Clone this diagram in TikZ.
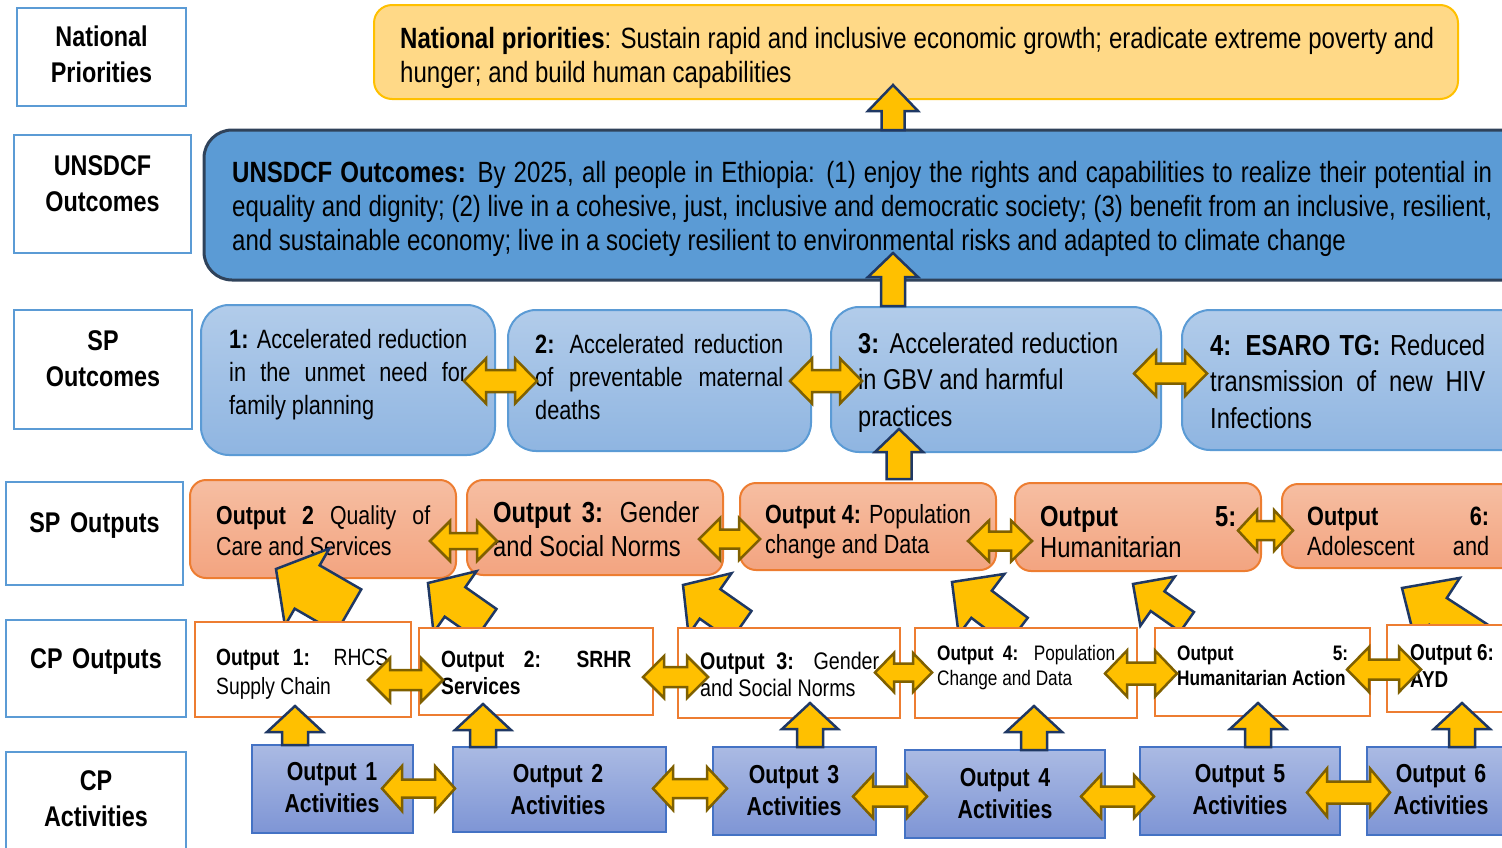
\documentclass[tikz,border=0pt]{standalone}
\usepackage{fontspec}
\setmainfont{Liberation Sans}[FakeStretch=0.82]
\usetikzlibrary{fit}

\definecolor{lblue}{RGB}{91,155,213}
\definecolor{natfill}{RGB}{255,217,135}
\definecolor{natline}{RGB}{255,192,0}
\definecolor{undline}{RGB}{47,66,90}
\definecolor{outtop}{RGB}{178,204,234}
\definecolor{outbot}{RGB}{143,181,225}
\definecolor{sptop}{RGB}{246,190,162}
\definecolor{spbot}{RGB}{243,164,128}
\definecolor{orng}{RGB}{237,125,49}
\definecolor{acttop}{RGB}{170,186,227}
\definecolor{actbot}{RGB}{126,149,213}
\definecolor{actline}{RGB}{68,114,196}
\definecolor{arrfill}{RGB}{255,192,0}
\definecolor{navy}{RGB}{31,56,100}
\definecolor{olive}{RGB}{127,96,0}

\newcommand{\fsz}[2]{\fontsize{#1}{#2}\selectfont}
% block arrow pointing up: x, tip y, foot y, head half, head length, shaft half
\newcommand{\upblk}[6]{%
  \draw[uparr] (#1,#2) -- (#1+#4,#2+#5) -- (#1+#6,#2+#5) -- (#1+#6,#3)
    -- (#1-#6,#3) -- (#1-#6,#2+#5) -- (#1-#4,#2+#5) -- cycle;}
% two-headed block arrow: left x, right x, mid y, head half, shaft half, head length
\newcommand{\dblblk}[6]{%
  \draw[dblarr] (#1,#3) -- (#1+#6,#3-#4) -- (#1+#6,#3-#5) -- (#2-#6,#3-#5)
    -- (#2-#6,#3-#4) -- (#2,#3) -- (#2-#6,#3+#4) -- (#2-#6,#3+#5)
    -- (#1+#6,#3+#5) -- (#1+#6,#3+#4) -- cycle;}
% slanted block arrow: tip x, tip y, angle, head half, head length, shaft half, shaft length
\newcommand{\slantblk}[7]{%
  \draw[uparr, shift={(#1,#2)}, rotate=#3] (0,0) -- (-#5,#4) -- (-#5,#6)
    -- (-#5-#7,#6) -- (-#5-#7,-#6) -- (-#5,-#6) -- (-#5,-#4) -- cycle;}

\begin{document}
\begin{tikzpicture}[x=1pt, y=-1pt,
  lbl/.style={draw=lblue, line width=2.5pt, fill=white, inner sep=0pt},
  lbltxt/.style={inner sep=0pt, anchor=base, text width=180, align=center,
    font=\bfseries\fsz{28.5}{36}},
  nat/.style={draw=natline, fill=natfill, line width=2pt, rounded corners=18pt, inner sep=0pt},
  und/.style={draw=undline, fill=lblue, line width=3pt, rounded corners=28pt, inner sep=0pt},
  outc/.style={draw=lblue, top color=outtop, bottom color=outbot, line width=2pt,
    rounded corners=28pt, inner sep=0pt},
  spout/.style={draw=orng, top color=sptop, bottom color=spbot, line width=2pt,
    rounded corners=16pt, inner sep=0pt},
  cpout/.style={draw=orng, fill=white, line width=2.5pt, inner sep=0pt},
  act/.style={draw=actline, top color=acttop, bottom color=actbot, line width=2pt, inner sep=0pt},
  txt/.style={inner sep=0pt, anchor=base west, align=justify},
  acttxt/.style={inner sep=0pt, anchor=base, text width=200, align=center,
    font=\bfseries\fsz{26}{32}},
  uparr/.style={fill=arrfill, draw=navy, line width=2.5pt},
  dblarr/.style={fill=arrfill, draw=olive, line width=2.5pt}
  ]
  \useasboundingbox (0,0) rectangle (1502,847);
  \clip (0,0) rectangle (1502,847);

  % level labels on the left
  \node[lbl, fit={(17,8) (186,106)}] (np) {};
  \node[lbl, fit={(14,135) (191,253)}] (uo) {};
  \node[lbl, fit={(14,310) (192,429)}] (spc) {};
  \node[lbl, fit={(6,482) (183,585)}] (spp) {};
  \node[lbl, fit={(6,620) (186,717)}] (cpo) {};
  \node[lbl, fit={(6,752) (186,880)}] (cpa) {};
  \node[lbltxt] (npt) at (101.5,46) {National\\Priorities};
  \node[lbltxt] (uot) at (102.5,175) {UNSDCF\\Outcomes};
  \node[lbltxt] (spct) at (103,350) {SP\\Outcomes};
  \node[lbltxt] (sppt) at (94.5,532) {SP Outputs};
  \node[lbltxt] (cpot) at (96,668) {CP Outputs};
  \node[lbltxt] (cpat) at (96,790) {CP\\Activities};

  % national priorities
  \node[nat, fit={(374,5) (1458,99)}] (natp) {};
  \node[txt, text width=1034, font=\fsz{29.3}{34}] (natpt) at (400,48)
    {\textbf{National priorities}: Sustain rapid and inclusive economic growth; eradicate extreme poverty and\linebreak hunger; and build human capabilities};

  % UNSDCF outcomes
  \node[und, fit={(204,130) (1530,280)}] (unsd) {};
  \node[txt, text width=1260, font=\fsz{29.3}{34}] (unsdt) at (232,182)
    {\textbf{UNSDCF Outcomes:} By 2025, all people in Ethiopia: (1) enjoy the rights and capabilities to realize their potential in\linebreak equality and dignity; (2) live in a cohesive, just, inclusive and democratic society; (3) benefit from an inclusive, resilient,\linebreak and sustainable economy; live in a society resilient to environmental risks and adapted to climate change};
  \upblk{893}{85}{130}{25}{26}{11.5}

  % SP outcomes
  \node[outc, fit={(201,305) (495,455)}] (oc1) {};
  \node[outc, fit={(508,310) (811,451)}] (oc2) {};
  \node[outc, fit={(831,307) (1161,452)}] (oc3) {};
  \node[outc, fit={(1182,310) (1540,450)}] (oc4) {};
  \node[txt, text width=238, font=\fsz{26.5}{33}] (oc1t) at (229,348)
    {\textbf{1:} Accelerated reduction\linebreak in the unmet need for\linebreak family planning};
  \node[txt, text width=248, font=\fsz{26.5}{33}] (oc2t) at (535,353)
    {\textbf{2:} Accelerated reduction\linebreak of preventable maternal\linebreak deaths};
  \node[txt, text width=260, font=\fsz{28.7}{36.5}] (oc3t) at (858,353)
    {\textbf{3:} Accelerated reduction\linebreak in GBV and harmful\\ practices};
  \node[txt, text width=275, font=\fsz{29}{36.5}] (oc4t) at (1210,355)
    {\textbf{4: ESARO TG:} Reduced\linebreak transmission of new HIV\linebreak Infections};
  \upblk{893}{253}{306}{25}{24}{12}
  \foreach \xa/\xb/\ym/\hh/\sh in {464/537/381/22.5/11, 790/862/381/22.5/11, 1134/1207/373.5/22.5/10}
    {\dblblk{\xa}{\xb}{\ym}{\hh}{\sh}{22}}

  % SP outputs
  \node[spout, fit={(190,480) (456,578)}] (so2) {};
  \node[spout, fit={(467,480) (723,575)}] (so3) {};
  \node[spout, fit={(740,483) (996,570)}] (so4) {};
  \node[spout, fit={(1015,483) (1261,571)}] (so5) {};
  \node[spout, fit={(1282,484) (1540,568)}] (so6) {};
  \node[txt, text width=214, font=\fsz{26}{31}] (so2t) at (216,524)
    {\textbf{Output 2} Quality of\linebreak Care and Services};
  \node[txt, text width=206, font=\fsz{29}{34}] (so3t) at (493,522)
    {\textbf{Output 3:} Gender\linebreak and Social Norms};
  \node[txt, text width=206, font=\fsz{26.3}{30}] (so4t) at (765,523)
    {\textbf{Output 4:} Population\\ change and Data};
  \node[txt, text width=196, font=\fsz{29}{31}] (so5t) at (1040,526)
    {\textbf{Output 5:}\linebreak Humanitarian};
  \node[txt, text width=182, font=\fsz{26.5}{30}] (so6t) at (1307,525)
    {\textbf{Output 6:}\linebreak \hbox to\linewidth{Adolescent\hfill and}};
  \upblk{899}{429}{479}{24}{23}{12.5}
  \foreach \xa/\xb/\ym/\hh/\sh/\hl in {430/497/541/20/8/20, 699/760/539/21/9.5/21,
      968/1032/541/20.5/9.5/21, 1238/1293/530.5/20.5/9.5/19}
    {\dblblk{\xa}{\xb}{\ym}{\hh}{\sh}{\hl}}

  % slanted arrows from CP outputs up to SP outputs
  \slantblk{276}{569}{150}{44.5}{36}{25}{48}
  \slantblk{428}{583}{145}{37.5}{33}{18}{38}
  \slantblk{683}{585}{145}{37.5}{33}{18}{38}
  \slantblk{952}{582}{143}{38}{37}{17}{45}
  \slantblk{1133}{584}{145}{30}{30}{12}{36}
  \slantblk{1402}{588}{147}{40}{43}{16}{50}

  % CP outputs
  \node[cpout, fit={(195,622) (411,717)}] (co1) {};
  \node[cpout, fit={(419,628) (653,715)}] (co2) {};
  \node[cpout, fit={(678,628) (900,718)}] (co3) {};
  \node[cpout, fit={(915,628) (1137,718)}] (co4) {};
  \node[cpout, fit={(1155,628) (1370,716)}] (co5) {};
  \node[cpout, fit={(1387,625) (1540,712)}] (co6) {};
  \node[txt, text width=172, font=\fsz{23.5}{29}] (co1t) at (216,665)
    {\textbf{Output 1:} RHCS\linebreak Supply Chain};
  \node[txt, text width=190, font=\bfseries\fsz{23.5}{27}] (co2t) at (441,667)
    {Output 2: SRHR\linebreak Services};
  \node[txt, text width=179, font=\fsz{24}{27}] (co3t) at (700,669)
    {\textbf{Output 3:} Gender\linebreak and Social Norms};
  \node[txt, text width=178, font=\fsz{21}{25}] (co4t) at (937,660)
    {\textbf{Output 4:} Population\linebreak Change and Data};
  \node[txt, text width=171, font=\bfseries\fsz{21}{25}] (co5t) at (1177,660)
    {Output 5:\linebreak Humanitarian Action};
  \node[txt, text width=90, font=\bfseries\fsz{23}{27}] (co6t) at (1410,660)
    {Output 6:\\ AYD};
  \foreach \xa/\xb/\ym/\hh/\sh/\hl in {368/443/680/22/10/22, 643/708/677/21/10/21,
      875/932/672.5/19.5/9/19, 1105/1177/673.5/23/11/22, 1347/1421/669.5/22.5/10/22}
    {\dblblk{\xa}{\xb}{\ym}{\hh}{\sh}{\hl}}

  % CP activities
  \node[act, fit={(252,745) (413,833)}] (ca1) {};
  \node[act, fit={(453,747) (666,832)}] (ca2) {};
  \node[act, fit={(713,747) (876,835)}] (ca3) {};
  \node[act, fit={(905,750) (1105,838)}] (ca4) {};
  \node[act, fit={(1140,747) (1340,835)}] (ca5) {};
  \node[act, fit={(1367,747) (1540,835)}] (ca6) {};
  \node[acttxt] (ca1t) at (332,780) {Output 1\\Activities};
  \node[acttxt] (ca2t) at (558,782) {Output 2\\Activities};
  \node[acttxt] (ca3t) at (794,783) {Output 3\\Activities};
  \node[acttxt] (ca4t) at (1005,786) {Output 4\\Activities};
  \node[acttxt] (ca5t) at (1240,782) {Output 5\\Activities};
  \node[acttxt] (ca6t) at (1441,782) {Output 6\\Activities};
  \foreach \x/\t/\b in {295/706/745, 483/704/747, 810/703/747, 1034/706/750, 1258/703/747, 1462/703/747}
    {\upblk{\x}{\t}{\b}{28}{26}{13}}
  \foreach \xa/\xb/\ym/\hh/\sh in {382/455/788.5/22.5/9, 653/727/788.5/21.5/9.5,
      853/927/796.5/21.5/10, 1081/1154/796.5/21.5/10, 1307/1390/792.5/24/11}
    {\dblblk{\xa}{\xb}{\ym}{\hh}{\sh}{20}}
\end{tikzpicture}
\end{document}
